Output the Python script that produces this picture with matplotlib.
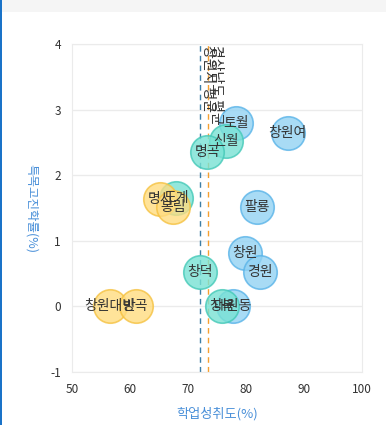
import matplotlib.pyplot as plt
from matplotlib.patches import Rectangle

plt.rcParams['font.family'] = ['Noto Sans CJK KR', 'DejaVu Sans']
plt.rcParams['axes.unicode_minus'] = False

# 학교별 학업성취도(x), 특목고진학률(y), 그룹
blue_names = ['토월', '창원여', '팔룡', '창원', '경원', '대원동']
blue_x = [78.3, 87.2, 81.9, 79.8, 82.4, 77.8]
blue_y = [2.80, 2.64, 1.51, 0.81, 0.53, 0.0]

teal_names = ['신월', '명곡', '도계', '창덕', '창북']
teal_x = [76.6, 73.3, 67.9, 72.1, 75.9]
teal_y = [2.52, 2.35, 1.66, 0.52, 0.0]

yellow_names = ['명서', '봉림', '창원대방', '반곡']
yellow_x = [65.2, 67.4, 56.6, 61.0]
yellow_y = [1.63, 1.52, 0.0, 0.0]

avg_city = 72.1
avg_prov = 73.45

fig = plt.figure(figsize=(3.86, 4.25), dpi=100)
fig.patches.append(Rectangle((0, 1 - 12 / 425), 1, 12 / 425, transform=fig.transFigure,
                             facecolor='#f5f5f5', edgecolor='none'))
fig.patches.append(Rectangle((0, 0), 2 / 386, 1, transform=fig.transFigure,
                             facecolor='#1a73c8', edgecolor='none'))

ax = fig.add_axes([72 / 386, 1 - 372 / 425, 290 / 386, 328 / 425])

groups = [
    (blue_names, blue_x, blue_y, '#92d2f3', '#5ab4e8'),
    (teal_names, teal_x, teal_y, '#78e2d4', '#45c9b8'),
    (yellow_names, yellow_x, yellow_y, '#ffdc80', '#f5c242'),
]
for names, xs, ys, face, edge in groups:
    ax.scatter(xs, ys, s=580, facecolor=face, edgecolor=edge, linewidth=1.2,
               alpha=0.8, zorder=3)
for names, xs, ys, face, edge in groups:
    for n, x, y in zip(names, xs, ys):
        ax.text(x, y, n, ha='center', va='center', fontsize=10, color='#333333', zorder=5)

ax.axvline(avg_city, color='#3d7ea6', linestyle=(0, (4, 3)), linewidth=1, zorder=2)
ax.axvline(avg_prov, color='#f5a030', linestyle=(0, (4, 3)), linewidth=1, zorder=2)
ax.text(avg_city + 0.2, 3.98, '창원시 평균', rotation=-90, ha='left', va='top',
        fontsize=10, color='#333333', zorder=4)
ax.text(avg_prov + 0.2, 3.98, '경상남도 평균', rotation=-90, ha='left', va='top',
        fontsize=10, color='#333333', zorder=4)

ax.set_xlim(50, 100)
ax.set_ylim(-1, 4)
ax.set_xticks([50, 60, 70, 80, 90, 100])
ax.set_yticks([-1, 0, 1, 2, 3, 4])
ax.grid(axis='y', color='#ebebeb', linewidth=1, zorder=0)
for s in ax.spines.values():
    s.set_color('#ebebeb')
ax.tick_params(length=0, labelsize=8.5, colors='#333333', pad=8)

ax.set_xlabel('학업성취도(%)', fontsize=9.5, color='#4a90d9', labelpad=8)
ax.set_ylabel('특목고진학률(%)', fontsize=9, color='#4a90d9', rotation=-90,
              labelpad=18, va='bottom')

fig.savefig('out.png', dpi=100)
